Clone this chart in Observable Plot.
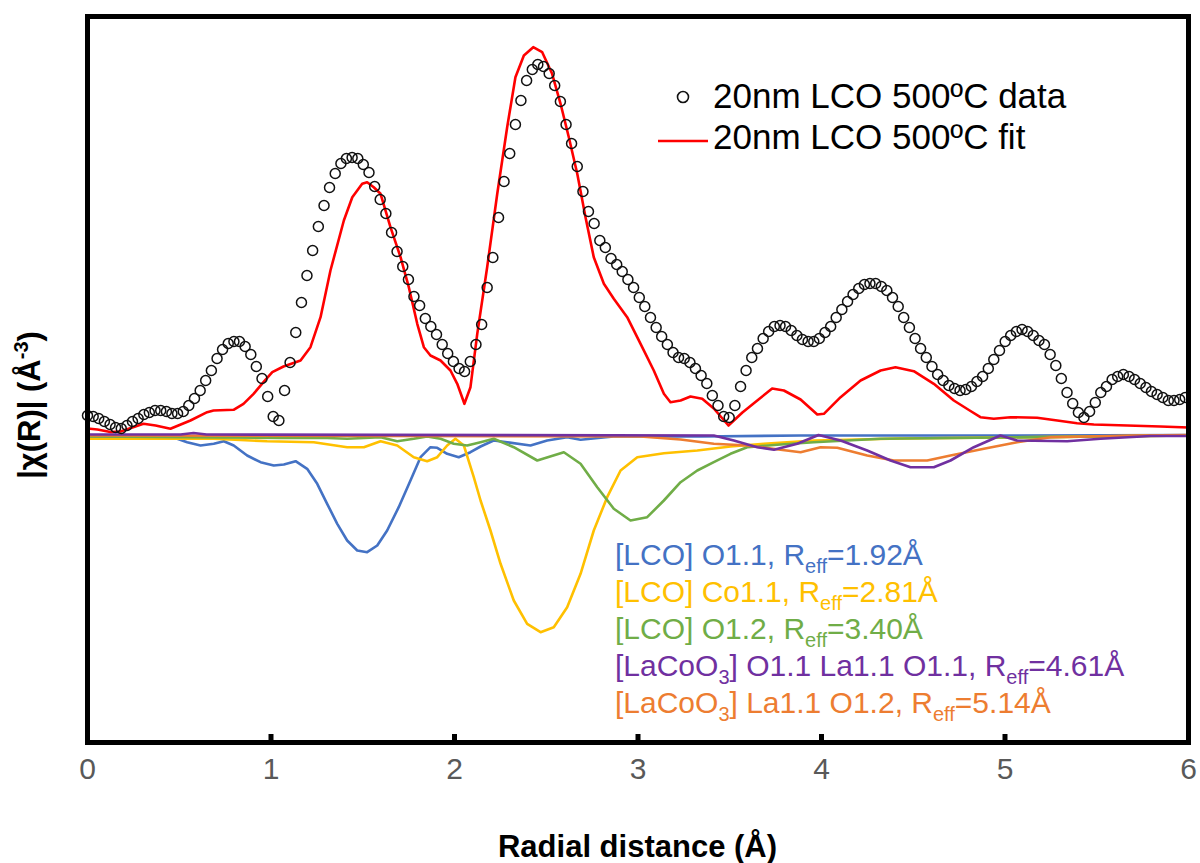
<!DOCTYPE html>
<html>
<head>
<meta charset="utf-8">
<script src="https://cdn.jsdelivr.net/npm/d3@7"></script>
<script src="https://cdn.jsdelivr.net/npm/@observablehq/plot@0.6"></script>
<style>
  body { margin: 0; background: #ffffff; }
  #chart { width: 1200px; height: 863px; }
</style>
</head>
<body>
<div id="chart"></div>
<script>
// ---------- measured data: |chi(R)| (open circles) ----------
const dataR = [
 0,0.031,0.061,0.092,0.123,0.153,0.184,0.215,0.245,0.276,
 0.307,0.337,0.368,0.399,0.430,0.460,0.491,0.522,0.552,0.583,
 0.614,0.644,0.675,0.706,0.736,0.767,0.798,0.828,0.859,0.890,
 0.920,0.951,0.982,1.012,1.043,1.074,1.104,1.135,1.166,1.196,
 1.227,1.258,1.289,1.319,1.350,1.381,1.411,1.442,1.473,1.503,
 1.534,1.565,1.595,1.626,1.657,1.687,1.718,1.749,1.779,1.810,
 1.841,1.871,1.902,1.933,1.963,1.994,2.025,2.055,2.086,2.117,
 2.148,2.178,2.209,2.240,2.270,2.301,2.332,2.362,2.393,2.424,
 2.454,2.485,2.516,2.546,2.577,2.608,2.638,2.669,2.700,2.730,
 2.761,2.792,2.822,2.853,2.884,2.914,2.945,2.976,3.007,3.037,
 3.068,3.099,3.129,3.160,3.191,3.221,3.252,3.283,3.313,3.344,
 3.375,3.405,3.436,3.467,3.497,3.528,3.559,3.589,3.620,3.651,
 3.682,3.712,3.743,3.774,3.804,3.835,3.866,3.896,3.927,3.958,
 3.988,4.019,4.050,4.080,4.111,4.142,4.172,4.203,4.234,4.264,
 4.295,4.326,4.356,4.387,4.418,4.448,4.479,4.510,4.540,4.571,
 4.602,4.633,4.663,4.694,4.725,4.755,4.786,4.817,4.847,4.878,
 4.909,4.939,4.970,5.001,5.031,5.062,5.093,5.123,5.154,5.185,
 5.215,5.246,5.277,5.307,5.338,5.369,5.400,5.430,5.461,5.492,
 5.522,5.553,5.584,5.614,5.645,5.676,5.706,5.737,5.768,5.798,
 5.829,5.860,5.890,5.921,5.952,5.982
];
const dataV = [
 0.19,0.18,0.16,0.13,0.10,0.07,0.06,0.09,0.13,0.16,
 0.20,0.22,0.24,0.24,0.23,0.21,0.21,0.23,0.29,0.36,
 0.44,0.54,0.64,0.76,0.85,0.91,0.93,0.93,0.88,0.80,
 0.68,0.56,0.38,0.18,0.14,0.44,0.72,1.02,1.32,1.59,
 1.84,2.08,2.29,2.47,2.61,2.71,2.76,2.77,2.76,2.70,
 2.62,2.48,2.35,2.21,2.02,1.83,1.68,1.55,1.38,1.29,
 1.16,1.08,1.00,0.90,0.81,0.73,0.66,0.63,0.73,0.90,
 1.10,1.47,1.77,2.17,2.53,2.81,3.10,3.34,3.54,3.65,
 3.70,3.68,3.61,3.49,3.33,3.10,2.91,2.68,2.43,2.23,
 2.11,1.94,1.87,1.76,1.70,1.63,1.55,1.47,1.37,1.28,
 1.17,1.07,0.98,0.90,0.82,0.77,0.76,0.72,0.66,0.59,
 0.51,0.39,0.29,0.18,0.17,0.29,0.48,0.64,0.77,0.86,
 0.96,1.03,1.08,1.09,1.08,1.04,0.99,0.95,0.93,0.93,
 0.96,1.02,1.08,1.17,1.25,1.33,1.40,1.46,1.50,1.51,
 1.51,1.48,1.44,1.37,1.28,1.17,1.07,0.96,0.86,0.77,
 0.68,0.60,0.54,0.49,0.46,0.44,0.45,0.48,0.53,0.58,
 0.66,0.75,0.84,0.93,0.99,1.03,1.05,1.03,0.99,0.94,
 0.90,0.80,0.69,0.56,0.42,0.31,0.22,0.17,0.23,0.32,
 0.42,0.48,0.55,0.58,0.60,0.58,0.55,0.51,0.47,0.43,
 0.40,0.37,0.34,0.34,0.35,0.37
];

// ---------- fit (red line) ----------
const fitR = [0,0.054,0.125,0.18,0.305,0.371,0.452,0.561,0.652,0.687,0.796,0.85,0.905,0.959,1.007,1.068,1.161,1.215,1.27,1.324,1.397,1.443,1.497,1.524,1.56,1.597,1.651,1.706,1.751,1.797,1.833,1.869,1.924,1.978,2.015,2.054,2.087,2.124,2.178,2.233,2.287,2.332,2.378,2.429,2.478,2.532,2.578,2.623,2.669,2.714,2.759,2.814,2.868,2.941,3.014,3.086,3.141,3.177,3.232,3.286,3.35,3.413,3.493,3.569,3.65,3.731,3.795,3.886,3.977,4.013,4.104,4.213,4.322,4.403,4.503,4.612,4.721,4.812,4.866,4.939,5.03,5.175,5.285,5.393,5.484,5.666,5.847,6];
const fitV = [0.06,0.05,0.025,0.03,0.107,0.09,0.057,0.14,0.223,0.24,0.247,0.307,0.407,0.523,0.623,0.68,0.74,0.873,1.173,1.64,2.14,2.373,2.507,2.523,2.473,2.407,2.073,1.773,1.473,1.107,0.873,0.79,0.74,0.64,0.507,0.307,0.473,1.007,1.673,2.407,3.073,3.573,3.79,3.873,3.823,3.607,3.307,2.973,2.607,2.173,1.773,1.507,1.357,1.173,0.907,0.64,0.407,0.323,0.34,0.38,0.357,0.26,0.09,0.22,0.34,0.46,0.44,0.35,0.2,0.207,0.373,0.54,0.64,0.673,0.633,0.507,0.34,0.235,0.173,0.157,0.173,0.167,0.14,0.113,0.1,0.09,0.08,0.07];

// ---------- scattering path components (plotted negative) ----------
const lcoO11R = [0,0.18,0.325,0.489,0.543,0.616,0.688,0.743,0.797,0.87,0.943,1.015,1.07,1.134,1.197,1.252,1.306,1.361,1.415,1.47,1.524,1.579,1.633,1.696,1.76,1.815,1.869,1.906,1.96,2.023,2.087,2.142,2.213,2.287,2.414,2.505,2.614,2.687,2.866,3.341,3.886,4.975,6];
const lcoO11V = [-0.027,-0.033,-0.043,-0.043,-0.077,-0.11,-0.093,-0.067,-0.11,-0.21,-0.277,-0.31,-0.3,-0.267,-0.343,-0.493,-0.693,-0.893,-1.06,-1.16,-1.177,-1.11,-0.96,-0.727,-0.46,-0.227,-0.127,-0.133,-0.193,-0.227,-0.177,-0.12,-0.06,-0.077,-0.11,-0.06,-0.027,-0.053,-0.02,-0.02,-0.01,-0.01,-0.005];

const lcoCo11R = [0,0.688,0.979,1.233,1.415,1.506,1.597,1.688,1.778,1.851,1.906,1.96,2.005,2.051,2.105,2.142,2.196,2.251,2.323,2.396,2.469,2.541,2.614,2.687,2.759,2.832,2.905,2.996,3.141,3.323,3.504,3.686,3.958,4.431,4.975,6];
const lcoCo11V = [-0.043,-0.043,-0.067,-0.077,-0.127,-0.127,-0.067,-0.11,-0.227,-0.267,-0.227,-0.11,-0.043,-0.11,-0.427,-0.66,-0.96,-1.293,-1.66,-1.893,-1.977,-1.927,-1.727,-1.393,-0.96,-0.627,-0.36,-0.227,-0.187,-0.16,-0.12,-0.093,-0.06,-0.04,-0.03,-0.01];

const lcoO12R = [0,1.052,1.27,1.415,1.597,1.688,1.778,1.851,1.924,1.996,2.069,2.142,2.214,2.323,2.451,2.596,2.687,2.778,2.868,2.959,3.05,3.141,3.232,3.323,3.413,3.504,3.595,3.777,3.958,4.322,4.975,6];
const lcoO12V = [-0.02,-0.035,-0.033,-0.043,-0.027,-0.067,-0.043,-0.02,-0.043,-0.093,-0.11,-0.077,-0.043,-0.127,-0.26,-0.177,-0.293,-0.527,-0.743,-0.86,-0.827,-0.66,-0.477,-0.36,-0.277,-0.193,-0.127,-0.1,-0.077,-0.043,-0.03,-0.01];

const lacoOLaOR = [0,0.507,0.578,0.649,3.413,3.522,3.65,3.741,3.868,3.984,4.104,4.249,4.376,4.485,4.612,4.703,4.83,4.975,5.066,5.339,5.52,5.793,6];
const lacoOLaOV = [0,0,0.015,0,-0.01,-0.06,-0.127,-0.153,-0.093,-0.005,-0.06,-0.16,-0.26,-0.327,-0.327,-0.26,-0.127,-0.01,-0.06,-0.067,-0.043,-0.015,-0.015];

const lacoLaOR = [0,3.014,3.232,3.413,3.595,3.777,3.886,3.995,4.086,4.249,4.394,4.576,4.703,4.885,5.066,5.248,5.7,6];
const lacoLaOV = [-0.01,-0.02,-0.05,-0.093,-0.11,-0.153,-0.177,-0.127,-0.133,-0.21,-0.26,-0.26,-0.21,-0.143,-0.077,-0.027,-0.01,-0.005];

// ---------- labels ----------
const xTicks = [0, 1, 2, 3, 4, 5, 6];
const xTitle = "Radial distance (Å)";
const yTitleParts = [["|χ(R)| (Å", 0], ["-3", 1], [")", 0]];
const seriesNames = ["20nm LCO 500ºC data", "20nm LCO 500ºC fit"];
const compLabels = [
  [["[LCO] O1.1, R", 0], ["eff", -1], ["=1.92Å", 0]],
  [["[LCO] Co1.1, R", 0], ["eff", -1], ["=2.81Å", 0]],
  [["[LCO] O1.2, R", 0], ["eff", -1], ["=3.40Å", 0]],
  [["[LaCoO", 0], ["3", -1], ["] O1.1 La1.1 O1.1, R", 0], ["eff", -1], ["=4.61Å", 0]],
  [["[LaCoO", 0], ["3", -1], ["] La1.1 O1.2, R", 0], ["eff", -1], ["=5.14Å", 0]]
];
const compColors = ["#4472C4", "#FFC000", "#70AD47", "#7030A0", "#ED7D31"];

// ---------- tables ----------
const zip = (R, V) => R.map((r, i) => ({r, v: V[i]}));
const data = zip(dataR, dataV);
const fit = zip(fitR, fitV);
const comps = [
  zip(lcoO11R, lcoO11V),
  zip(lcoCo11R, lcoCo11V),
  zip(lcoO12R, lcoO12V),
  zip(lacoOLaOR, lacoOLaOV),
  zip(lacoLaOR, lacoLaOV)
];
const drawOrder = [0, 1, 2, 4, 3];

const W = 1200, H = 863;
const mL = 87, mR = 12, mT = 16, mB = 121;
const frameH = H - mT - mB;

const plot = Plot.plot({
  width: W, height: H,
  marginLeft: mL, marginRight: mR, marginTop: mT, marginBottom: mB,
  style: {fontFamily: "'Liberation Sans', Arial, sans-serif", background: "#ffffff", overflow: "visible"},
  x: {domain: [0, 6]},
  y: {domain: [-3.08, 4.18], axis: null},
  marks: [
    ...drawOrder.map(k => Plot.line(comps[k], {x: "r", y: "v", stroke: compColors[k], strokeWidth: 2.6})),
    Plot.line(fit, {x: "r", y: "v", stroke: "#FF0000", strokeWidth: 2.6}),
    Plot.dot(data, {x: "r", y: "v", r: 5, stroke: "#111111", strokeWidth: 1.5, fill: "none"}),
    Plot.ruleX(xTicks.slice(1, -1), {stroke: "#000000", strokeWidth: 5, insetTop: frameH - 8}),
    Plot.frame({stroke: "#000000", strokeWidth: 5}),
    Plot.axisX(xTicks, {tickSize: 0, tickPadding: 15, fontSize: 30, color: "#595959", label: null, tickFormat: d => String(d)})
  ]
});

document.getElementById("chart").appendChild(plot);

// ---------- titles and legends ----------
const svg = d3.select(plot);
const font = "'Liberation Sans', Arial, sans-serif";

svg.append("text")
  .attr("x", (mL + W - mR) / 2).attr("y", 857)
  .attr("text-anchor", "middle")
  .attr("font-family", font).attr("font-weight", "bold").attr("font-size", 31)
  .attr("fill", "#000").text(xTitle);

const yt = svg.append("text")
  .attr("transform", `translate(40, 405) rotate(-90)`)
  .attr("text-anchor", "middle")
  .attr("font-family", font).attr("font-weight", "bold").attr("font-size", 31)
  .attr("fill", "#000");
yTitleParts.forEach(([s, sup], i) => {
  const prev = i > 0 ? yTitleParts[i - 1][1] : 0;
  const t = yt.append("tspan").text(s);
  if (sup) t.attr("font-size", 20).attr("dy", -12);
  else if (prev) t.attr("dy", 12);
});

// legend for data / fit
const lg = svg.append("g").attr("font-family", font).attr("font-size", 35)
  .attr("fill", "#000").attr("text-anchor", "start");
lg.append("circle").attr("cx", 683).attr("cy", 97).attr("r", 5.5)
  .attr("fill", "none").attr("stroke", "#111").attr("stroke-width", 1.6);
lg.append("text").attr("x", 713).attr("y", 108).text(seriesNames[0]);
lg.append("line").attr("x1", 658).attr("x2", 708).attr("y1", 141).attr("y2", 141)
  .attr("stroke", "#FF0000").attr("stroke-width", 2.6);
lg.append("text").attr("x", 713).attr("y", 149).text(seriesNames[1]);

// legend for components
const cg = svg.append("g").attr("font-family", font).attr("font-size", 30).attr("text-anchor", "start");
compLabels.forEach((parts, k) => {
  const t = cg.append("text").attr("x", 615).attr("y", 565 + k * 37).attr("fill", compColors[k]);
  parts.forEach(([s, sub], i) => {
    const prev = i > 0 ? parts[i - 1][1] : 0;
    const ts = t.append("tspan").text(s);
    if (sub) ts.attr("font-size", 20).attr("dy", 8);
    else if (prev) ts.attr("dy", -8);
  });
});
</script>
</body>
</html>
